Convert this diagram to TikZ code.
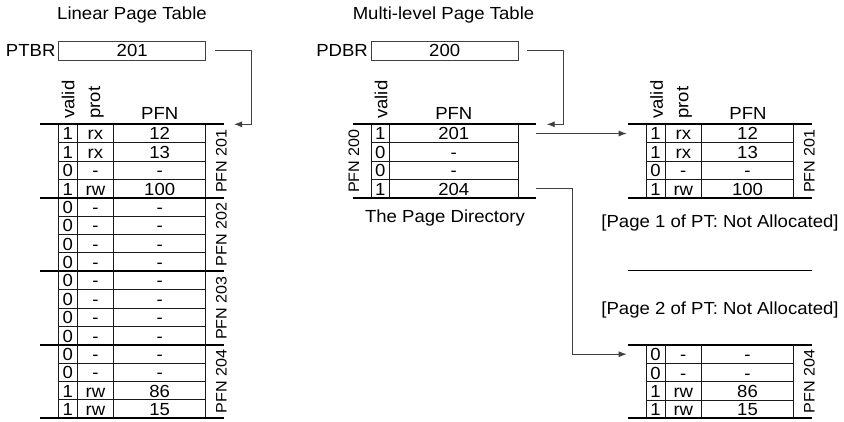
\documentclass[tikz,border=0pt]{standalone}
\usepackage{fontspec}
\setmainfont[FakeStretch=1.06]{Liberation Sans}
\usetikzlibrary{arrows.meta}
\begin{document}
\begin{tikzpicture}[x=1pt,y=-1pt,
  every node/.style={font=\fontsize{17.5}{21}\selectfont, inner sep=0pt},
  cell/.style={anchor=base},
  thinline/.style={line width=0.9pt, black!90},
  thickline/.style={line width=2pt},
  conn/.style={line width=0.9pt, black!75},
  arr/.style={conn, -{Latex[length=8pt,width=6pt]}},
  hdr/.style={rotate=90, anchor=west},
  grp/.style={rotate=90, font=\fontsize{15.2}{18}\selectfont},
  regbox/.style={draw=black!75, line width=0.9pt, minimum width=147pt, minimum height=18.7pt},
]
\useasboundingbox (0,0) rectangle (844,421);
\def\RH{18.37}

% ---------- titles ----------
\node (t1) at (132,15) {Linear Page Table};
\node (t2) at (443.5,15) {Multi-level Page Table};

% ---------- registers ----------
\node[regbox] (ptbr) at (132.2,50.7) {201};
\node[anchor=east] (ptbrlab) at (55.6,50.7) {PTBR};
\node[regbox] (pdbr) at (444.7,50.7) {200};
\node[anchor=east] (pdbrlab) at (368,50.7) {PDBR};

% ---------- linear page table (left) ----------
\foreach \c in {18.6,37,73.7,165.7}
  \draw[thinline] ({40+\c},124.3) -- ({40+\c},{124.3+16*\RH});
\foreach \r in {1,2,3,5,6,7,9,10,11,13,14,15}
  \draw[thinline] (58.6,{124.3+\r*\RH}) -- (205.7,{124.3+\r*\RH});
\foreach \r in {0,4,8,12,16}
  \draw[thickline] (40,{124.3+\r*\RH}) -- (224,{124.3+\r*\RH});
\foreach \v/\p/\f [count=\i from 0] in {1/rx/12,1/rx/13,0/-/-,1/rw/100,
   0/-/-,0/-/-,0/-/-,0/-/-,0/-/-,0/-/-,0/-/-,0/-/-,0/-/-,0/-/-,1/rw/86,1/rw/15}{
  \node[cell] (Lv\i) at (67.9,{124.3+(\i+1)*\RH-2.7}) {\v};
  \node[cell] (Lp\i) at (95.4,{124.3+(\i+1)*\RH-2.7}) {\p};
  \node[cell] (Lf\i) at (159.7,{124.3+(\i+1)*\RH-2.7}) {\f};
}
\node[hdr] (Lhv) at (68.2,119) {valid};
\node[hdr] (Lhp) at (96.4,119) {prot};
\node[cell] (Lhf) at (159.7,119.3) {PFN};
\foreach \n [count=\g from 0] in {201,202,203,204}
  \node[grp] (Lg\n) at (221.3,{124.3+(4*\g+2)*\RH}) {PFN \n};

% ---------- page directory (middle) ----------
\foreach \c in {371,389.3,518.3}
  \draw[thinline] (\c,124.3) -- (\c,{124.3+4*\RH});
\foreach \r in {1,2,3}
  \draw[thinline] (371,{124.3+\r*\RH}) -- (518.3,{124.3+\r*\RH});
\foreach \r in {0,4}
  \draw[thickline] (352.7,{124.3+\r*\RH}) -- (536,{124.3+\r*\RH});
\foreach \v/\f [count=\i from 0] in {1/201,0/-,0/-,1/204}{
  \node[cell] (Dv\i) at (380.2,{124.3+(\i+1)*\RH-2.7}) {\v};
  \node[cell] (Df\i) at (453.8,{124.3+(\i+1)*\RH-2.7}) {\f};
}
\node[hdr] (Dhv) at (381,119) {valid};
\node[cell] (Dhf) at (453.8,119.3) {PFN};
\node[grp] (Dg) at (353.8,{124.3+2*\RH}) {PFN 200};
\node (dcap) at (445,218) {The Page Directory};

% ---------- right top table (PFN 201) ----------
\foreach \c in {18.4,36.7,73.4,165}
  \draw[thinline] ({628.3+\c},124.3) -- ({628.3+\c},{124.3+4*\RH});
\foreach \r in {1,2,3}
  \draw[thinline] (646.7,{124.3+\r*\RH}) -- (793.3,{124.3+\r*\RH});
\foreach \r in {0,4}
  \draw[thickline] (628.3,{124.3+\r*\RH}) -- (811.7,{124.3+\r*\RH});
\foreach \v/\p/\f [count=\i from 0] in {1/rx/12,1/rx/13,0/-/-,1/rw/100}{
  \node[cell] (Av\i) at (655.5,{124.3+(\i+1)*\RH-2.7}) {\v};
  \node[cell] (Ap\i) at (683.3,{124.3+(\i+1)*\RH-2.7}) {\p};
  \node[cell] (Af\i) at (747.5,{124.3+(\i+1)*\RH-2.7}) {\f};
}
\node[hdr] (Ahv) at (656.5,119) {valid};
\node[hdr] (Ahp) at (684.5,119) {prot};
\node[cell] (Ahf) at (748,119.3) {PFN};
\node[grp] (Ag) at (809.3,{124.3+2*\RH}) {PFN 201};

% ---------- not allocated ----------
\node (na1) at (720,223.3) {[Page 1 of PT: Not Allocated]};
\draw[line width=1.1pt] (628.3,270.7) -- (811.7,270.7);
\node (na2) at (720,310) {[Page 2 of PT: Not Allocated]};

% ---------- right bottom table (PFN 204) ----------
\foreach \c in {18.4,36.7,73.4,165}
  \draw[thinline] ({628.3+\c},345) -- ({628.3+\c},{345+4*\RH});
\foreach \r in {1,2,3}
  \draw[thinline] (646.7,{345+\r*\RH}) -- (793.3,{345+\r*\RH});
\foreach \r in {0,4}
  \draw[thickline] (628.3,{345+\r*\RH}) -- (811.7,{345+\r*\RH});
\foreach \v/\p/\f [count=\i from 0] in {0/-/-,0/-/-,1/rw/86,1/rw/15}{
  \node[cell] (Bv\i) at (655.5,{345+(\i+1)*\RH-2.7}) {\v};
  \node[cell] (Bp\i) at (683.3,{345+(\i+1)*\RH-2.7}) {\p};
  \node[cell] (Bf\i) at (747.5,{345+(\i+1)*\RH-2.7}) {\f};
}
\node[grp] (Bg) at (809.3,{345+2*\RH}) {PFN 204};

% ---------- connectors ----------
\coordinate (Lcorner) at (251.3,124.3);
\coordinate (Lin) at (234,124.3);
\draw[arr] ([xshift=9.3pt]ptbr.east) -| (Lcorner) -- (Lin);

\coordinate (Dcorner) at (563.3,124.3);
\coordinate (Din) at (546.7,124.3);
\draw[arr] ([xshift=8.4pt]pdbr.east) -| (Dcorner) -- (Din);

\coordinate (D1out) at (536,133.5);
\coordinate (Ain) at (626.7,133.5);
\draw[arr] (D1out) -- (Ain);

\coordinate (D4out) at (536,188.5);
\coordinate (Bcorner) at (572.9,354.2);
\coordinate (Bin) at (626.7,354.2);
\draw[arr] (D4out) -| (Bcorner) -- (Bin);
\end{tikzpicture}
\end{document}
